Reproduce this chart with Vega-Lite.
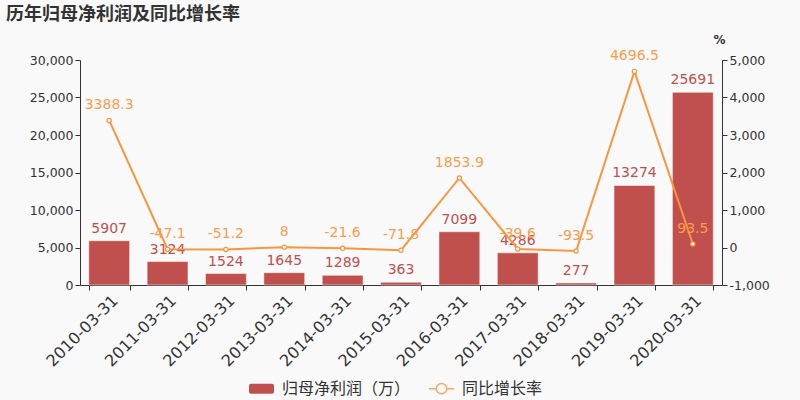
{
  "$schema": "https://vega.github.io/schema/vega-lite/v6.json",
  "autosize": "none",
  "width": 642,
  "height": 225,
  "padding": {"left": 80, "top": 60, "right": 78, "bottom": 115},
  "background": "#f9f9f9",
  "title": {
    "text": "历年归母净利润及同比增长率",
    "anchor": "start",
    "frame": "group",
    "dx": -74,
    "offset": 9,
    "fontSize": 18,
    "fontWeight": "bold",
    "color": "#333333",
    "font": "Noto Sans CJK SC"
  },
  "data": {
    "values": [
      {"date": "2010-03-31", "profit": 5907, "growth": 3388.3},
      {"date": "2011-03-31", "profit": 3124, "growth": -47.1},
      {"date": "2012-03-31", "profit": 1524, "growth": -51.2},
      {"date": "2013-03-31", "profit": 1645, "growth": 8},
      {"date": "2014-03-31", "profit": 1289, "growth": -21.6},
      {"date": "2015-03-31", "profit": 363, "growth": -71.8},
      {"date": "2016-03-31", "profit": 7099, "growth": 1853.9},
      {"date": "2017-03-31", "profit": 4286, "growth": -39.6},
      {"date": "2018-03-31", "profit": 277, "growth": -93.5},
      {"date": "2019-03-31", "profit": 13274, "growth": 4696.5},
      {"date": "2020-03-31", "profit": 25691, "growth": 93.5}
    ]
  },
  "encoding": {
    "x": {
      "field": "date",
      "type": "nominal",
      "sort": null,
      "title": null,
      "scale": {"paddingInner": 0.3, "paddingOuter": 0.15},
      "axis": {
        "labelAngle": -45,
        "labelFontSize": 16,
        "labelColor": "#333333",
        "labelFont": "DejaVu Sans",
        "domainColor": "#333333",
        "tickColor": "#333333",
        "tickBand": "extent",
        "tickSize": 5,
        "labelPadding": 2
      }
    }
  },
  "layer": [
    {
      "encoding": {
        "y": {
          "field": "profit",
          "type": "quantitative",
          "title": null,
          "scale": {"domain": [0, 30000]},
          "axis": {
            "orient": "left",
            "values": [0, 5000, 10000, 15000, 20000, 25000, 30000],
            "format": ",d",
            "grid": false,
            "labelFontSize": 12.5,
            "labelColor": "#333333",
            "labelFont": "DejaVu Sans",
            "domainColor": "#333333",
            "tickColor": "#333333",
            "tickSize": 5
          }
        }
      },
      "layer": [
        {
          "mark": {"type": "bar", "stroke": "#ffffff", "strokeOpacity": 0.5, "strokeWidth": 1},
          "encoding": {
            "color": {
              "datum": "归母净利润（万）",
              "type": "nominal",
              "scale": {
                "domain": ["归母净利润（万）", "同比增长率"],
                "range": ["#c0504d", "#f7963f"]
              },
              "legend": {
                "orient": "none",
                "legendX": 168,
                "legendY": 315,
                "direction": "horizontal",
                "title": null,
                "symbolSize": 625,
                "labelFontSize": 16,
                "labelFont": "Noto Sans CJK SC",
                "labelColor": "#333333",
                "labelOffset": 7,
                "columnPadding": 15,
                "encode": {
                  "symbols": {
                    "update": {
                      "shape": {"signal": "datum.value == '同比增长率' ? 'M-1,0L-0.42,0M0.42,0L1,0M0.42,0A0.42,0.42 0 1,1 -0.42,0A0.42,0.42 0 1,1 0.42,0Z' : 'M-0.84,-0.4H0.84A0.16,0.16 0 0 1 1,-0.24V0.24A0.16,0.16 0 0 1 0.84,0.4H-0.84A0.16,0.16 0 0 1 -1,0.24V-0.24A0.16,0.16 0 0 1 -0.84,-0.4Z'"},
                      "fillOpacity": {"signal": "datum.value == '同比增长率' ? 0 : 1"},
                      "strokeOpacity": {"signal": "datum.value == '同比增长率' ? 0.8 : 0"},
                      "strokeWidth": {"value": 1.5}
                    }
                  }
                }
              }
            }
          }
        },
        {
          "mark": {"type": "text", "baseline": "bottom", "dy": -5, "fontSize": 14, "font": "DejaVu Sans", "color": "#c0504d"},
          "encoding": {"text": {"field": "profit", "type": "nominal"}}
        }
      ]
    },
    {
      "encoding": {
        "y": {
          "field": "growth",
          "type": "quantitative",
          "title": "%",
          "scale": {"domain": [-1000, 5000]},
          "axis": {
            "orient": "right",
            "values": [-1000, 0, 1000, 2000, 3000, 4000, 5000],
            "format": ",d",
            "labelExpr": "replace(datum.label, '−', '-')",
            "grid": false,
            "labelFontSize": 12.5,
            "labelColor": "#333333",
            "labelFont": "DejaVu Sans",
            "domainColor": "#333333",
            "tickColor": "#333333",
            "tickSize": 5,
            "titleAngle": 0,
            "titleX": -3,
            "titleY": -21,
            "titleAlign": "center",
            "titleBaseline": "middle",
            "titleFontSize": 12,
            "titleFontWeight": "bold",
            "titleColor": "#333333",
            "titleFont": "DejaVu Sans"
          }
        }
      },
      "layer": [
        {
          "mark": {"type": "line", "strokeWidth": 2},
          "encoding": {
            "color": {
              "datum": "同比增长率",
              "type": "nominal",
              "legend": {
                "orient": "none",
                "legendX": 168,
                "legendY": 315,
                "direction": "horizontal",
                "title": null,
                "symbolSize": 625,
                "labelFontSize": 16,
                "labelFont": "Noto Sans CJK SC",
                "labelColor": "#333333",
                "labelOffset": 7,
                "columnPadding": 15,
                "encode": {
                  "symbols": {
                    "update": {
                      "shape": {"signal": "datum.value == '同比增长率' ? 'M-1,0L-0.42,0M0.42,0L1,0M0.42,0A0.42,0.42 0 1,1 -0.42,0A0.42,0.42 0 1,1 0.42,0Z' : 'M-0.84,-0.4H0.84A0.16,0.16 0 0 1 1,-0.24V0.24A0.16,0.16 0 0 1 0.84,0.4H-0.84A0.16,0.16 0 0 1 -1,0.24V-0.24A0.16,0.16 0 0 1 -0.84,-0.4Z'"},
                      "fillOpacity": {"signal": "datum.value == '同比增长率' ? 0 : 1"},
                      "strokeOpacity": {"signal": "datum.value == '同比增长率' ? 0.8 : 0"},
                      "strokeWidth": {"value": 1.5}
                    }
                  }
                }
              }
            }
          }
        },
        {
          "mark": {"type": "point", "shape": "circle", "filled": false, "fill": "#ffffff", "fillOpacity": 1, "stroke": "#f7963f", "strokeWidth": 1.2, "size": 18, "opacity": 1}
        },
        {
          "mark": {"type": "text", "baseline": "bottom", "dy": -8, "fontSize": 14, "font": "DejaVu Sans", "color": "#f99d4c"},
          "encoding": {"text": {"field": "growth", "type": "nominal"}}
        }
      ]
    }
  ],
  "resolve": {"scale": {"y": "independent"}},
  "config": {"view": {"stroke": null}}
}
